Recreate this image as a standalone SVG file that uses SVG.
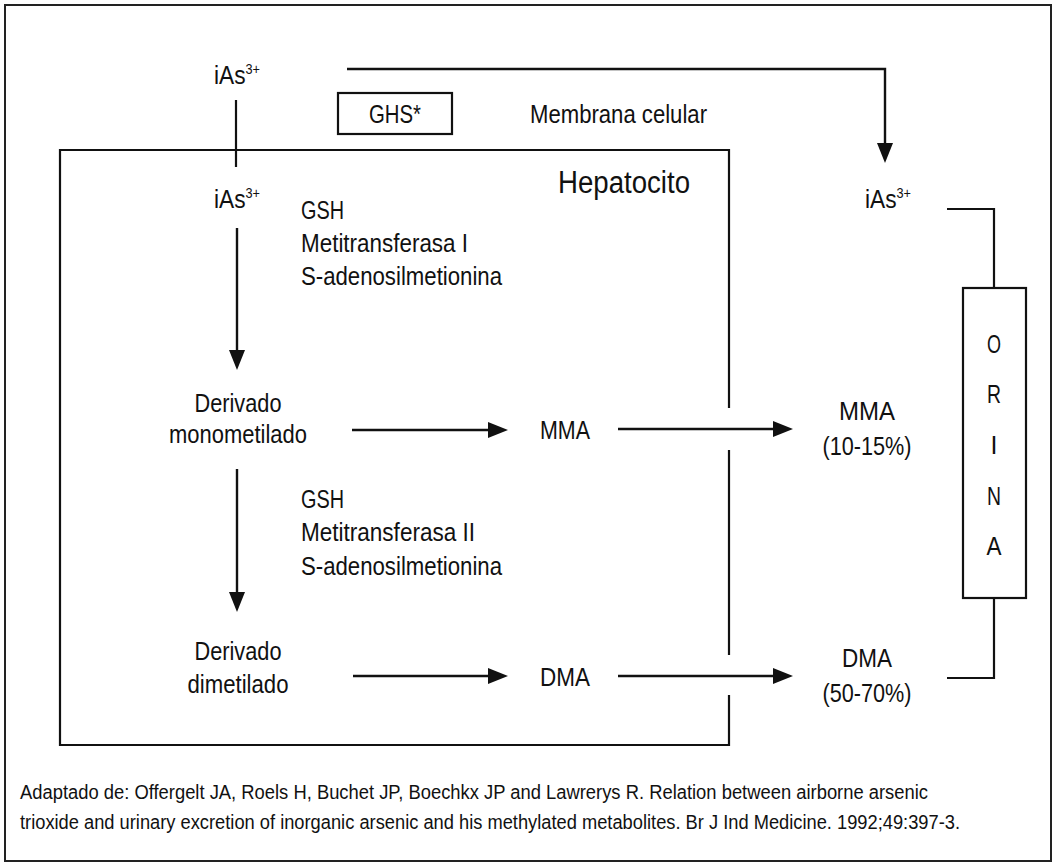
<svg xmlns="http://www.w3.org/2000/svg" width="1057" height="868" viewBox="0 0 1057 868">
<style>
text{font-family:"Liberation Sans Narrow","Liberation Sans",Arial,sans-serif;fill:#111;font-size:25px}
.sup{font-size:14px}
.big{font-size:31px}
.foot{font-size:20px}
.ln{fill:none;stroke:#111;stroke-width:2.2}
.frame{fill:none;stroke:#222;stroke-width:2}
.ar{fill:none;stroke:#111;stroke-width:2.4;marker-end:url(#ah)}
</style>
<defs>
<marker id="ah" viewBox="0 0 20 16" refX="10" refY="8" markerWidth="20" markerHeight="16" markerUnits="userSpaceOnUse" orient="auto">
<path d="M0,0 L20,8 L0,16 z" fill="#111"/>
</marker>
</defs>
<rect x="0" y="0" width="1057" height="868" fill="#fff"/>
<rect class="frame" x="5" y="5" width="1046" height="856"/>

<g id="hepatocito">
<path class="ln" d="M729 408 V150 H60 V745 H729 V695 M729 655 V450"/>
<text class="big" x="558" y="193" textLength="132" lengthAdjust="spacingAndGlyphs">Hepatocito</text>
</g>

<g id="ias-top">
<text x="214" y="84" textLength="46" lengthAdjust="spacingAndGlyphs">iAs<tspan class="sup" dy="-10">3+</tspan></text>
</g>
<g id="ghs">
<rect class="ln" x="338" y="93" width="114" height="41"/>
<text x="395" y="123" text-anchor="middle" textLength="52" lengthAdjust="spacingAndGlyphs">GHS*</text>
</g>
<g id="membrana">
<text x="530" y="123" textLength="177" lengthAdjust="spacingAndGlyphs">Membrana celular</text>
</g>
<g id="ias-in">
<text x="214" y="208" textLength="46" lengthAdjust="spacingAndGlyphs">iAs<tspan class="sup" dy="-10">3+</tspan></text>
</g>
<g id="enz1">
<text x="301" y="219" textLength="43" lengthAdjust="spacingAndGlyphs">GSH</text>
<text x="301" y="252" textLength="167" lengthAdjust="spacingAndGlyphs">Metitransferasa I</text>
<text x="301" y="285" textLength="201" lengthAdjust="spacingAndGlyphs">S-adenosilmetionina</text>
</g>
<g id="monometilado">
<text x="238" y="412" text-anchor="middle" textLength="87" lengthAdjust="spacingAndGlyphs">Derivado</text>
<text x="238" y="443" text-anchor="middle" textLength="138" lengthAdjust="spacingAndGlyphs">monometilado</text>
</g>
<g id="mma-in">
<text x="540" y="439" textLength="50" lengthAdjust="spacingAndGlyphs">MMA</text>
</g>
<g id="enz2">
<text x="301" y="508" textLength="43" lengthAdjust="spacingAndGlyphs">GSH</text>
<text x="301" y="541" textLength="174" lengthAdjust="spacingAndGlyphs">Metitransferasa II</text>
<text x="301" y="575" textLength="201" lengthAdjust="spacingAndGlyphs">S-adenosilmetionina</text>
</g>
<g id="dimetilado">
<text x="238" y="660" text-anchor="middle" textLength="87" lengthAdjust="spacingAndGlyphs">Derivado</text>
<text x="238" y="693" text-anchor="middle" textLength="101" lengthAdjust="spacingAndGlyphs">dimetilado</text>
</g>
<g id="dma-in">
<text x="540" y="686" textLength="50" lengthAdjust="spacingAndGlyphs">DMA</text>
</g>
<g id="ias-out">
<text x="865" y="208" textLength="46" lengthAdjust="spacingAndGlyphs">iAs<tspan class="sup" dy="-10">3+</tspan></text>
</g>
<g id="mma-out">
<text x="867" y="420" text-anchor="middle" textLength="56" lengthAdjust="spacingAndGlyphs">MMA</text>
<text x="867" y="455" text-anchor="middle" textLength="89" lengthAdjust="spacingAndGlyphs">(10-15%)</text>
</g>
<g id="dma-out">
<text x="867" y="667" text-anchor="middle" textLength="50" lengthAdjust="spacingAndGlyphs">DMA</text>
<text x="867" y="702" text-anchor="middle" textLength="89" lengthAdjust="spacingAndGlyphs">(50-70%)</text>
</g>
<g id="orina">
<rect class="ln" x="963" y="288" width="63" height="310"/>
<text x="994" y="353" text-anchor="middle" textLength="14" lengthAdjust="spacingAndGlyphs">O</text>
<text x="994" y="403" text-anchor="middle" textLength="14" lengthAdjust="spacingAndGlyphs">R</text>
<text x="994" y="454" text-anchor="middle">I</text>
<text x="994" y="505" text-anchor="middle" textLength="14" lengthAdjust="spacingAndGlyphs">N</text>
<text x="994" y="555" text-anchor="middle" textLength="15" lengthAdjust="spacingAndGlyphs">A</text>
</g>

<g id="connectors">
<path class="ln" d="M236 100 V167"/>
<path class="ar" d="M347 69 H885 V153"/>
<path class="ar" d="M237 228 V360"/>
<path class="ar" d="M352 430 H498"/>
<path class="ar" d="M618 429 H783"/>
<path class="ar" d="M237 469 V602"/>
<path class="ar" d="M353 676 H498"/>
<path class="ar" d="M618 676 H783"/>
<path class="ln" d="M947 209 H994 V288"/>
<path class="ln" d="M994 598 V678 H947"/>
</g>

<g id="footnote">
<text class="foot" x="20" y="799" textLength="908" lengthAdjust="spacingAndGlyphs">Adaptado de: Offergelt JA, Roels H, Buchet JP, Boechkx JP and Lawrerys R. Relation between airborne arsenic</text>
<text class="foot" x="20" y="829" textLength="940" lengthAdjust="spacingAndGlyphs">trioxide and urinary excretion of inorganic arsenic and his methylated metabolites. Br J Ind Medicine. 1992;49:397-3.</text>
</g>
</svg>
